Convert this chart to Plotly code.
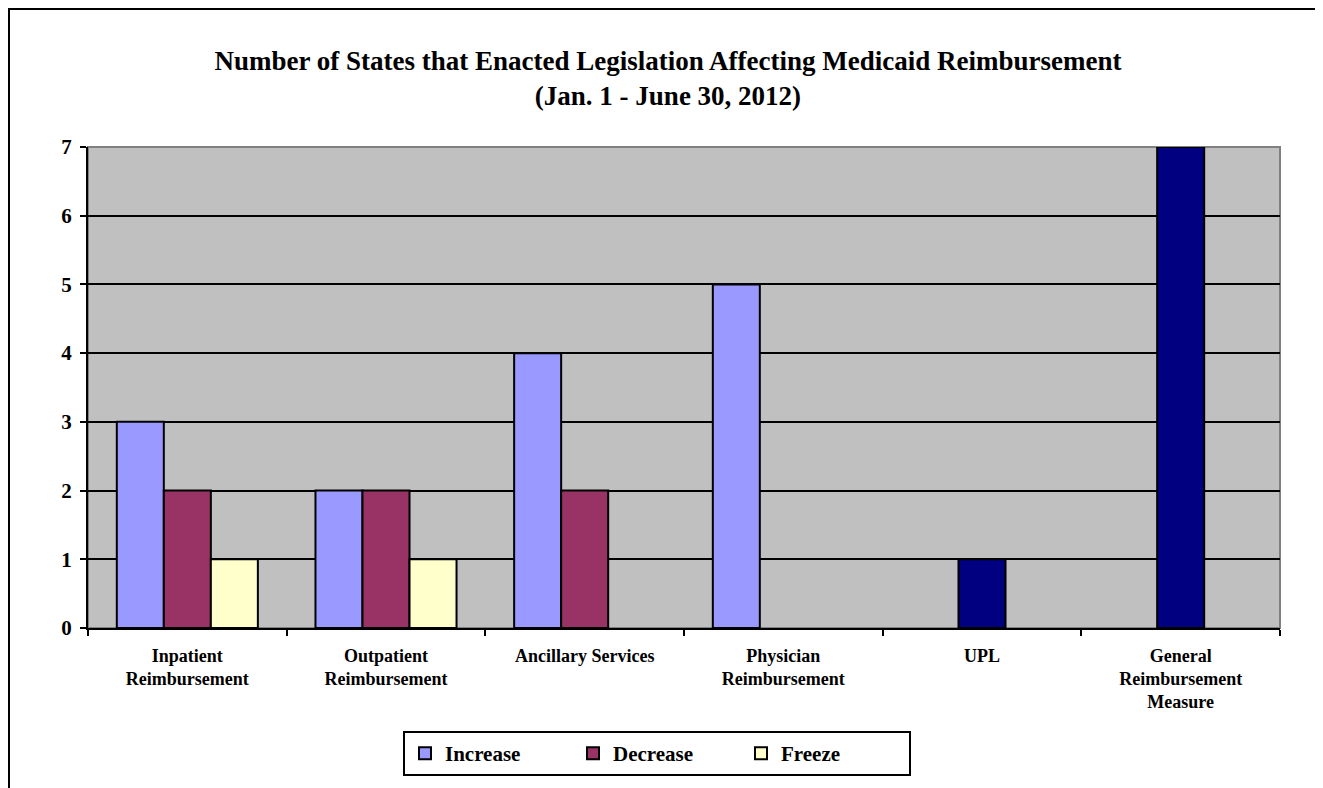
import plotly.graph_objects as go

categories = ["Inpatient<br>Reimbursement", "Outpatient<br>Reimbursement", "Ancillary Services",
              "Physician<br>Reimbursement", "UPL", "General<br>Reimbursement<br>Measure"]
increase = [3, 2, 4, 5, None, None]
decrease = [2, 2, 2, None, 1, 7]
freeze = [1, 1, None, None, None, None]
y_ticks = [0, 1, 2, 3, 4, 5, 6, 7]

C_INC = "#9999FF"
C_DEC = "#993366"
C_FRZ = "#FFFFCC"
C_NAVY = "#000080"
dec_colors = [C_DEC, C_DEC, C_DEC, C_DEC, C_NAVY, C_NAVY]

FONT = "'Liberation Serif', 'Times New Roman', 'DejaVu Serif', serif"
OFF = 8  # page body margin
W, H = 1323 - OFF, 788 - OFF
PX0, PX1, PY0, PY1 = 88 - OFF, 1280 - OFF, 147 - OFF, 628 - OFF
L, R, T, B = PX0, W - PX1, PY0, H - PY1
PH = PY1 - PY0
PW = PX1 - PX0

fig = go.Figure()
line = dict(color="black", width=2)
fig.add_trace(go.Bar(name="<b>Increase</b>", x=categories, y=increase,
                     marker=dict(color=C_INC, line=line)))
fig.add_trace(go.Bar(name="<b>Decrease</b>", x=categories, y=decrease,
                     marker=dict(color=dec_colors, line=line)))
fig.add_trace(go.Bar(name="<b>Freeze</b>", x=categories, y=freeze,
                     marker=dict(color=C_FRZ, line=line)))

fig.update_layout(
    width=W, height=H,
    margin=dict(l=L, r=R, t=T, b=B),
    paper_bgcolor="white",
    plot_bgcolor="#C0C0C0",
    barmode="group", bargap=0.29, bargroupgap=0,
    font=dict(family=FONT, color="black"),
    title=dict(text="<b>Number of States that Enacted Legislation Affecting Medicaid Reimbursement</b><br><b>(Jan. 1 - June 30, 2012)</b>",
               x=(668 - OFF) / W, xanchor="center",
               y=1 - (77.5 - 16) / H, yanchor="middle", yref="container",
               font=dict(size=27, family=FONT)),
    showlegend=True,
    legend=dict(orientation="h", x=(657 - 88) / PW, xanchor="center",
                y=-(731 - 628) / PH, yanchor="top",
                bordercolor="black", borderwidth=2, bgcolor="white",
                font=dict(size=21, family=FONT),
                entrywidth=123, itemwidth=30),
)
fig.update_xaxes(
    type="category", tickson="boundaries", ticks="outside", ticklen=6,
    tickwidth=2, tickcolor="black", showline=True, linecolor="black", linewidth=2,
    showgrid=False, tickfont=dict(size=18, family=FONT), ticklabelstandoff=10,
    tickvals=categories,
    ticktext=[f"<b>{c}</b>".replace("<br>", "</b><br><b>") for c in categories],
)
fig.update_yaxes(
    range=[0, 7], tickvals=y_ticks, ticktext=[f"<b>{v}</b>" for v in y_ticks],
    ticks="outside", ticklen=6, tickwidth=2, tickcolor="black",
    showline=True, linecolor="black", linewidth=2,
    showgrid=True, gridcolor="black", gridwidth=2, zeroline=False,
    tickfont=dict(size=21, family=FONT), ticklabelstandoff=4,
)
# plot area top/right border (gray) drawn over gridline at top
fig.add_shape(type="rect", xref="paper", yref="paper", x0=0, x1=1, y0=0, y1=1,
              line=dict(color="#808080", width=2), fillcolor="rgba(0,0,0,0)", layer="between")
# outer chart border
fig.add_shape(type="rect", xref="paper", yref="paper",
              x0=(9 - 88) / PW, x1=(1323 + 20 - 88) / PW,
              y0=-(788 + 20 - 628) / PH, y1=1 + (147 - 9) / PH,
              line=dict(color="black", width=2), fillcolor="rgba(0,0,0,0)", layer="above")

fig.write_html("out.html")
